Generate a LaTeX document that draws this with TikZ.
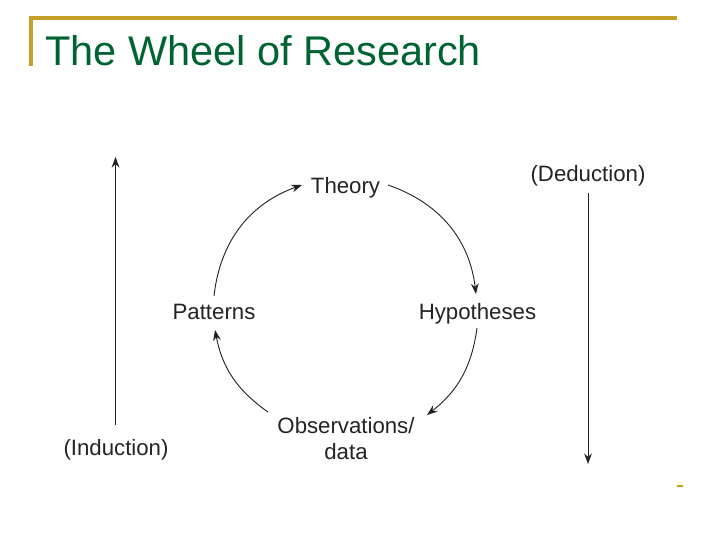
\documentclass[tikz,border=0pt]{standalone}
\usepackage{fontspec}
\setmainfont{Liberation Sans}
\usetikzlibrary{arrows.meta}
\definecolor{gold}{RGB}{196,160,40}
\definecolor{titlegreen}{RGB}{0,100,50}
\definecolor{ink}{RGB}{35,35,40}
\begin{document}
\begin{tikzpicture}[x=0.025cm,y=0.025cm,
  lbl/.style={inner sep=0pt,text=ink,font=\fontsize{15.8pt}{19pt}\selectfont},
  conn/.style={draw=ink,line width=0.65pt,-{Stealth[length=7.5pt,width=5.5pt]}},
  rule/.style={draw=gold,line width=2.2pt}]
\useasboundingbox[fill=white] (0,0) rectangle (720,-540);
% frame
\coordinate (f1) at (31,-66);
\coordinate (f2) at (31,-18);
\coordinate (f3) at (677,-18);
\draw[rule] (f1) -- (f2) -- (f3);
\coordinate (d1) at (677,-486);
\coordinate (d2) at (683,-486);
\draw[draw=gold,line width=2pt] (d1) -- (d2);
% title
\node[anchor=base west,inner sep=0pt,text=titlegreen,font=\fontsize{29.5pt}{34pt}\selectfont] (title) at (45,-65) {The Wheel of Research};
% labels
\node[lbl,anchor=base] (theory) at (345.5,-193) {Theory};
\node[lbl,anchor=base] (patterns) at (214,-319) {Patterns};
\node[lbl,anchor=base] (hyp) at (477.5,-319) {Hypotheses};
\node[lbl,anchor=base] (obs) at (346,-433) {Observations/};
\node[lbl,anchor=base] (obsdata) at (346,-459) {data};
\node[lbl,anchor=base] (ded) at (588,-181) {(Deduction)};
\node[lbl,anchor=base] (ind) at (116,-455) {(Induction)};
% wheel arcs
\coordinate (a1s) at (388,-185);
\coordinate (a1e) at (476,-294);
\coordinate (a2s) at (477,-328);
\coordinate (a2e) at (427,-415);
\coordinate (a3s) at (268,-412);
\coordinate (a3e) at (215,-330);
\coordinate (a4s) at (214,-296);
\coordinate (a4e) at (302,-185);
\draw[conn] (a1s) to[bend left=32] (a1e);
\draw[conn] (a2s) to[bend left=22] (a2e);
\draw[conn] (a3s) to[bend left=22] (a3e);
\draw[conn] (a4s) to[bend left=32] (a4e);
% side arrows
\coordinate (indb) at (115.5,-425);
\coordinate (indt) at (115.5,-157);
\draw[conn] (indb) -- (indt);
\coordinate (dedt) at (588,-193);
\coordinate (dedb) at (588,-464);
\draw[conn] (dedt) -- (dedb);
\end{tikzpicture}
\end{document}
